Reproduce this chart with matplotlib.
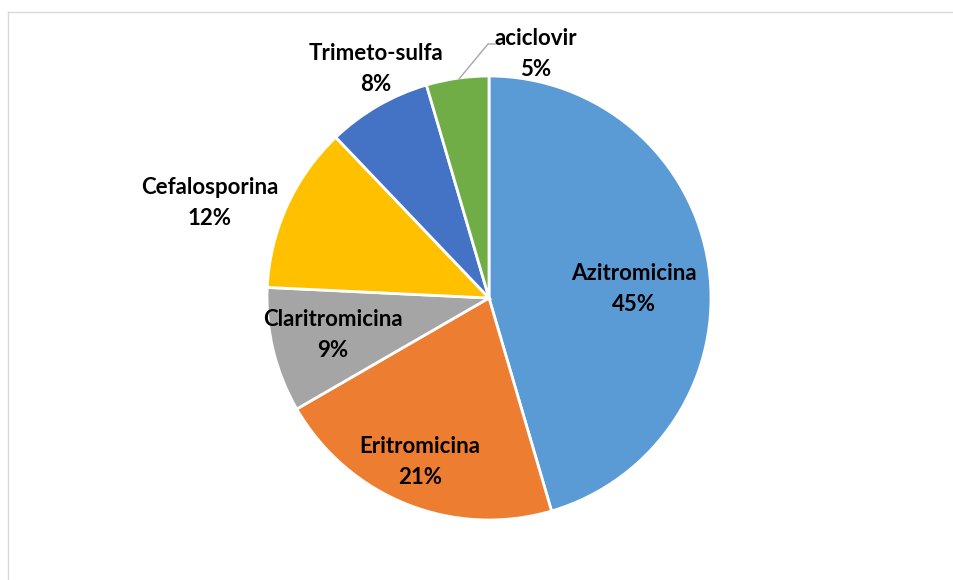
import matplotlib.pyplot as plt
from matplotlib.lines import Line2D

# Datos del gráfico (número de prescripciones)
medicamentos = ["Azitromicina", "Eritromicina", "Claritromicina",
                "Cefalosporina", "Trimeto-sulfa", "aciclovir"]
cantidades = [30, 14, 6, 8, 5, 3]
colores = ["#5B9BD5", "#ED7D31", "#A5A5A5", "#FFC000", "#4472C4", "#70AD47"]

total = sum(cantidades)
porcentajes = [int(c * 100 / total + 0.5) for c in cantidades]

W, H = 954, 580
cx, cy, r = 489, 298, 222   # centro y radio del pastel en píxeles

fig = plt.figure(figsize=(W / 100, H / 100), dpi=100)
ax = fig.add_axes([(cx - r) / W, (H - cy - r) / H, 2 * r / W, 2 * r / H])

ax.pie(cantidades, colors=colores, startangle=90, counterclock=False,
       radius=1, wedgeprops=dict(edgecolor="white", linewidth=2))
ax.set_xlim(-1, 1)
ax.set_ylim(-1, 1)
ax.set_aspect("equal")
ax.axis("off")


def px(x, y):
    # píxel de la imagen -> coordenadas del eje
    return (x - cx) / r, (cy - y) / r


# posiciones de las etiquetas (centro del texto, en píxeles)
pos_etiquetas = [(634, 289), (420, 462), (333, 335), (210, 203), (376, 69), (536, 54)]

for nombre, pct, (x, y) in zip(medicamentos, porcentajes, pos_etiquetas):
    tx, ty = px(x, y)
    ax.text(tx, ty, f"{nombre}\n{pct}%", ha="center", va="center",
            fontsize=16, fontweight="bold", family="Lato",
            linespacing=1.6, color="black")

# línea guía de aciclovir
xs, ys = zip(px(459, 79), px(488, 44), px(495, 44))
ax.plot(xs, ys, color="#A6A6A6", linewidth=1, clip_on=False)

# marco del área del gráfico
fig.add_artist(Line2D([8.5 / W, 1], [1 - 11.5 / H, 1 - 11.5 / H],
                      transform=fig.transFigure, color="#D9D9D9", linewidth=1))
fig.add_artist(Line2D([8.5 / W, 8.5 / W], [0, 1 - 11.5 / H],
                      transform=fig.transFigure, color="#D9D9D9", linewidth=1))

fig.savefig("out.png", dpi=100, facecolor="white")
